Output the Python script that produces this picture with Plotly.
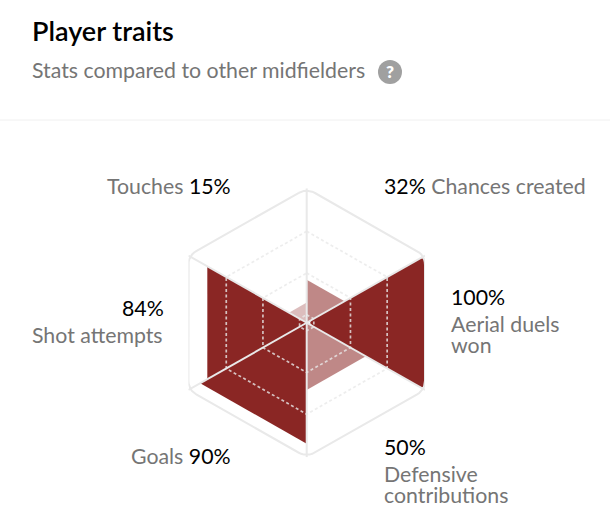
import math
import plotly.graph_objects as go

W, H = 610, 520
TITLE = "Player traits"
SUBTITLE = "Stats compared to other midfielders"
CATEGORIES = ["Chances created", "Aerial duels won", "Defensive contributions", "Goals", "Shot attempts", "Touches"]
VALUES = [32, 100, 50, 90, 84, 15]
OPACITIES = [0.55, 1, 0.55, 1, 1, 0.3]
RINGS = [0.06, 0.37, 0.68]

DARK = "#8A2624"
GRID = "#E9E9E9"
GRAY = "#757575"
FONT = "Lato"
LABEL = 21.3


def vertex(i, r=1.0):
    a = math.radians(i * 60)
    return r * math.sin(a), r * math.cos(a)


def rounded(points, radius, closed=True):
    """Round polygon corners (radius in data units) with quadratic curves."""
    out = []
    n = len(points)
    for k in range(n):
        p = points[k]
        if radius <= 0:
            out.append(p)
            continue
        a, b = points[k - 1], points[(k + 1) % n]
        def toward(q):
            d = math.hypot(q[0] - p[0], q[1] - p[1])
            t = min(radius / d, 0.5)
            return p[0] + (q[0] - p[0]) * t, p[1] + (q[1] - p[1]) * t
        s, e = toward(a), toward(b)
        for j in range(7):
            t = j / 6
            out.append(((1 - t) ** 2 * s[0] + 2 * t * (1 - t) * p[0] + t ** 2 * e[0],
                        (1 - t) ** 2 * s[1] + 2 * t * (1 - t) * p[1] + t ** 2 * e[1]))
    out.append(out[0])
    return [q[0] for q in out], [q[1] for q in out]


fig = go.Figure()

# Filled sectors
for i, (cat, v, op) in enumerate(zip(CATEGORIES, VALUES, OPACITIES)):
    r = v / 100
    a, b = vertex(i, r), vertex(i + 1, r)
    if v == 100:
        xs, ys = rounded([(0, 0), a, b], 0.06)
    else:
        xs, ys = [0, a[0], b[0], 0], [0, a[1], b[1], 0]
    fig.add_trace(go.Scatter(x=xs, y=ys, mode="lines", fill="toself", name=cat,
                             fillcolor=DARK, opacity=op, line=dict(width=0)))

# Dashed rings
for r in RINGS:
    pts = [vertex(i, r) for i in range(7)]
    fig.add_trace(go.Scatter(x=[p[0] for p in pts], y=[p[1] for p in pts], mode="lines",
                             line=dict(color="rgba(233,233,233,0.8)", width=1.7, dash="3px,2.5px")))

# Spokes
for i in range(6):
    p = vertex(i)
    fig.add_trace(go.Scatter(x=[0, p[0]], y=[0, p[1]], mode="lines",
                             line=dict(color=GRID, width=2)))

# Outer hexagon
xs, ys = rounded([vertex(i) for i in range(6)], 0.07)
fig.add_trace(go.Scatter(x=xs, y=ys, mode="lines", line=dict(color=GRID, width=2)))


def px(x):
    return x / W


def py(y):
    return 1 - y / H


def text(x, y, s, size, color, anchor="left", weight=None):
    fig.add_annotation(x=px(x), y=py(y), xref="paper", yref="paper", text=s, showarrow=False,
                       xanchor=anchor, yanchor="middle", align=anchor, borderpad=0, borderwidth=0,
                       font=dict(family=FONT, size=size, color=color, weight=weight))


text(32, 30, TITLE, 27, "#000000", weight=600)
text(32, 70, SUBTITLE, LABEL, GRAY)
text(390, 72, "?", 17, "#FFFFFF", "center", 800)


def num(v):
    return f"<span style='color:#000'>{v}%</span>"


text(231, 186, f"{CATEGORIES[5]} {num(VALUES[5])}", LABEL, GRAY, "right")
text(384, 186, f"{num(VALUES[0])} {CATEGORIES[0]}", LABEL, GRAY)
text(451, 297, num(VALUES[1]), LABEL, "#000")
text(451, 324, "Aerial duels", LABEL, GRAY)
text(451, 345, "won", LABEL, GRAY)
text(122, 308, num(VALUES[4]), LABEL, "#000")
text(32, 335, CATEGORIES[4], LABEL, GRAY)
text(231, 456, f"{CATEGORIES[3]} {num(VALUES[3])}", LABEL, GRAY, "right")
text(384, 447, num(VALUES[2]), LABEL, "#000")
text(384, 474, "Defensive", LABEL, GRAY)
text(384, 495, "contributions", LABEL, GRAY)

shapes = [
    dict(type="line", xref="paper", yref="paper", x0=0, x1=1, y0=py(120), y1=py(120),
         line=dict(color="#F0F0F0", width=1)),
    dict(type="circle", xref="paper", yref="paper", x0=px(378), x1=px(402), y0=py(84), y1=py(60),
         fillcolor="#A0A0A0", line=dict(width=0), layer="below"),
]

cos30 = math.cos(math.radians(30))
fig.update_layout(
    width=W, height=H, margin=dict(l=0, r=0, t=0, b=0), showlegend=False,
    paper_bgcolor="#FFFFFF", plot_bgcolor="rgba(0,0,0,0)", shapes=shapes,
    xaxis=dict(visible=False, range=[-cos30, cos30], domain=[px(188.4), px(425)], fixedrange=True),
    yaxis=dict(visible=False, range=[-1, 1], domain=[py(457.2), py(188.3)], fixedrange=True),
)
fig.update_traces(cliponaxis=False, hoverinfo="skip")
fig.write_html("out.html", config={"displayModeBar": False},
               post_script="document.body.style.margin='0';document.body.style.overflow='hidden';")
